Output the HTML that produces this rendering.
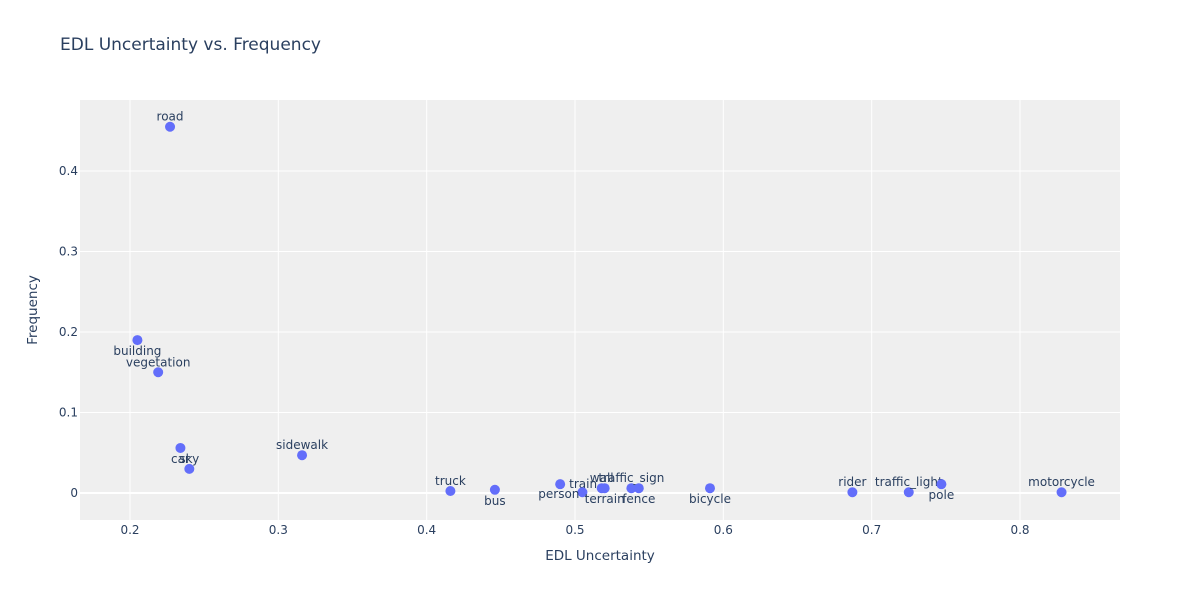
<!DOCTYPE html>
<html><head><meta charset="utf-8"><style>
body{margin:0;background:#fff;font-family:"DejaVu Sans","Liberation Sans",sans-serif}
svg text{font-family:"DejaVu Sans","Liberation Sans",sans-serif;fill:#2a3f5f}
</style></head><body>
<svg id="chart" width="1200" height="600" xmlns="http://www.w3.org/2000/svg">
<rect width="1200" height="600" fill="#fff"/>
<text x="60" y="50" font-size="17">EDL Uncertainty vs. Frequency</text>
<rect x="80" y="100" width="1040" height="420" fill="#efefef"/>
<g id="grid"></g><g id="ticks"></g><g id="pts"></g>
<text x="600" y="560" font-size="13.5" text-anchor="middle">EDL Uncertainty</text>
<text x="37" y="310" font-size="13.5" text-anchor="middle" transform="rotate(-90 37 310)">Frequency</text>
</svg>
<script>
const labels=["road","building","vegetation","car","sky","sidewalk","truck","bus","train","person","wall","terrain","traffic_sign","fence","bicycle","rider","traffic_light","pole","motorcycle"];
const xVals=[0.227,0.205,0.219,0.234,0.240,0.316,0.416,0.446,0.490,0.505,0.518,0.520,0.538,0.543,0.591,0.687,0.725,0.747,0.828];
const yVals=[0.455,0.190,0.150,0.056,0.030,0.047,0.0025,0.004,0.011,0.001,0.006,0.006,0.006,0.006,0.006,0.001,0.001,0.011,0.001];
const positions=["top","bottom","top","bottom","top","top","top","bottom","right","left","top","bottom","top","bottom","bottom","top","top","bottom","top"];
const xTicks=[0.2,0.3,0.4,0.5,0.6,0.7,0.8];
const yTicks=[0,0.1,0.2,0.3,0.4];
const X0=0.1663,X1=0.8674,Y0=-0.0335,Y1=0.4882;
const L=80,R=1120,T=100,B=520;
const sx=v=>L+(v-X0)/(X1-X0)*(R-L);
const sy=v=>B-(v-Y0)/(Y1-Y0)*(B-T);
const NS="http://www.w3.org/2000/svg";
function mk(tag,attrs,parent,txt){const e=document.createElementNS(NS,tag);for(const k in attrs)e.setAttribute(k,attrs[k]);if(txt!==undefined)e.textContent=txt;parent.appendChild(e);return e;}
const grid=document.getElementById('grid'),ticks=document.getElementById('ticks'),pts=document.getElementById('pts');
xTicks.forEach(t=>{
 const l=mk('line',{x1:sx(t),x2:sx(t),y1:T,y2:B,stroke:'#fff','stroke-width':1},grid);
 
 
 const tx=mk('text',{x:sx(t),y:B+14,'font-size':12,'text-anchor':'middle'},ticks,String(t));
 
 
});
yTicks.forEach(t=>{
 const l=mk('line',{x1:L,x2:R,y1:sy(t),y2:sy(t),stroke:'#fff','stroke-width':t===0?2:1},grid);
 
 
 const tx=mk('text',{x:L-2,y:sy(t)+4,'font-size':12,'text-anchor':'end'},ticks,String(t));
 
 
});
labels.forEach((n,i)=>{
 const cx=sx(xVals[i]),cy=sy(yVals[i]);
 const c=mk('circle',{cx:cx,cy:cy,r:5,fill:'#636efa'},pts);
 
 
 let a={x:cx,y:cy,'font-size':12,'text-anchor':'middle'};
 const p=positions[i];
 if(p==='top')a.y=cy-6;
 else if(p==='bottom')a.y=cy+15;
 else if(p==='right'){a.x=cx+9;a.y=cy+4;a['text-anchor']='start';}
 else {a.x=cx-3;a.y=cy+6;a['text-anchor']='end';}
 const t=mk('text',a,pts,n);
 
 
});
</script>
</body></html>
